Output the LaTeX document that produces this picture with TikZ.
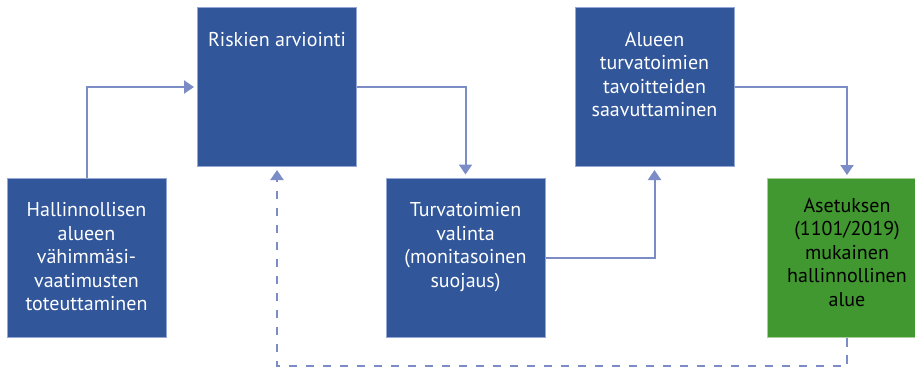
\documentclass[tikz,border=0pt]{standalone}
\usepackage{fontspec}
\setmainfont{PT Sans}
\usepackage{tikz}
\usetikzlibrary{arrows.meta}

\definecolor{boxblue}{HTML}{31569A}
\definecolor{boxedge}{HTML}{95A7D6}
\definecolor{boxgreen}{HTML}{419830}
\definecolor{greenedge}{HTML}{A8CF98}
\definecolor{flowline}{HTML}{7B8CC6}

% text hanging from the top of a box
\newcommand{\boxtxt}[2][20pt]{\parbox[c][150pt][t]{156pt}{\centering\vspace*{#1}#2}}

\begin{document}
\begin{tikzpicture}[x=1pt, y=1pt,
    box/.style={draw=boxedge, line width=1pt, fill=boxblue, text=white,
      minimum width=159pt, minimum height=159pt, inner sep=0pt,
      font=\fontsize{20}{23.5}\selectfont},
    greenbox/.style={box, draw=greenedge, fill=boxgreen, text=black},
    flow/.style={draw=flowline, line width=2pt,
      -{Triangle[width=13pt,length=10pt]}, shorten >=3pt},
    dashflow/.style={flow, dash pattern=on 8.5pt off 8.5pt}]
                \useasboundingbox (0,0) rectangle (915,-368);
                \node[box] (adm) at (86.5,-257.5) {\boxtxt{Hallinnollisen\\alueen\\vähimmäsi-\\vaatimusten\\toteuttaminen}};
                \node[box] (risk) at (277,-87) {\boxtxt{Riskien arviointi}};
                \node[box] (valinta) at (465.5,-257.5) {\boxtxt{Turvatoimien\\valinta\\(monitasoinen\\suojaus)}};
                \node[box] (tavoite) at (654.5,-87) {\boxtxt{Alueen\\turvatoimien\\tavoitteiden\\saavuttaminen}};
                \node[greenbox] (alue) at (847,-258) {\boxtxt[15pt]{Asetuksen\\(1101/2019)\\mukainen\\hallinnollinen\\alue}};
                \coordinate (loop) at (847,-366);
                \draw[flow] (adm.north) |- (risk.west);
                \draw[flow] (risk.east) -| (valinta.north);
                \draw[flow] (valinta.east) -| (tavoite.south);
                \draw[flow] (tavoite.east) -| (alue.north);
                \draw[dashflow] (alue.south) -- (loop) -| (risk.south);
            \end{tikzpicture}
\end{document}
